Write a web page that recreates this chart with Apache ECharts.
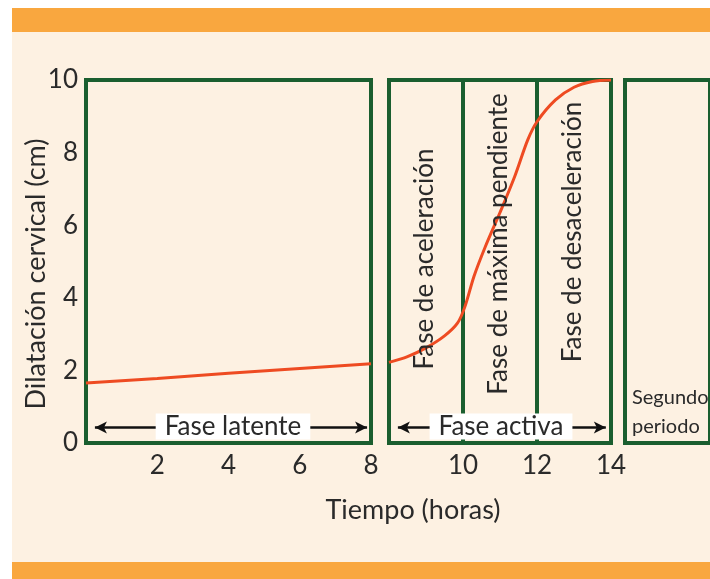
<!DOCTYPE html>
<html><head><meta charset="utf-8">
<script src="https://cdn.jsdelivr.net/npm/echarts@6/dist/echarts.min.js"></script>
<style>html,body{margin:0;padding:0;background:#fff}#c{width:710px;height:579px}</style>
</head><body><div id="c"></div>
<script>
// ---- data ----
const yTicks = [0, 2, 4, 6, 8, 10];
const latentTicks = [2, 4, 6, 8];
const activeTicks = [10, 12, 14];
const latentX = [0, 2, 4, 6, 8];
const latentY = [1.65, 1.78, 1.92, 2.05, 2.18];
const activeX = [8, 8.5, 9, 9.5, 9.85, 10.05, 10.3, 10.6, 11, 11.4, 11.75, 12, 12.5, 13, 13.5, 14];
const activeY = [2.22, 2.38, 2.62, 2.95, 3.3, 3.75, 4.6, 5.4, 6.35, 7.35, 8.35, 8.85, 9.45, 9.8, 9.96, 10];
const phaseNames = ['Fase de aceleración', 'Fase de máxima pendiente', 'Fase de desaceleración'];
const phaseCenters = [9, 11, 13];
const yTitle = 'Dilatación cervical (cm)';
const xTitle = 'Tiempo (horas)';
const latentLabel = 'Fase latente';
const activeLabel = 'Fase activa';
const secondLabel = 'Segundo\nperiodo';

const FONT = 'Lato';
const GREEN = '#1a5e2f';
const RED = '#ee4b22';
const TXT = '#2a2a2a';

const chart = echarts.init(document.getElementById('c'), null, {renderer: 'canvas'});

const gridBase = {top: 80, height: 363, show: true, borderColor: GREEN, borderWidth: 4, backgroundColor: 'transparent'};

const arrowLine = (x0, x1) => ({
  silent: true, symbol: ['arrow', 'arrow'], symbolSize: [9, 12],
  lineStyle: {color: '#111', width: 2.5, type: 'solid'},
  label: {show: false},
  data: [[{coord: [x0, 0.43]}, {coord: [x1, 0.43]}]]
});

const option = {
  animation: false,
  backgroundColor: '#fff',
  textStyle: {fontFamily: FONT},
  grid: [
    Object.assign({left: 86, width: 285}, gridBase),
    Object.assign({left: 389, width: 222}, gridBase),
    Object.assign({left: 625, width: 200}, gridBase)
  ],
  xAxis: [
    {gridIndex: 0, type: 'value', min: 0, max: 8, interval: 2,
     axisLine: {show: false}, axisTick: {show: false}, splitLine: {show: false},
     axisLabel: {margin: 10, fontSize: 26, color: TXT, fontFamily: FONT,
       formatter: v => latentTicks.includes(v) ? String(v) : ''}},
    {gridIndex: 1, type: 'value', min: 8, max: 14, interval: 2,
     axisLine: {show: false}, axisTick: {show: false},
     splitLine: {show: true, lineStyle: {color: GREEN, width: 4}},
     axisLabel: {margin: 10, fontSize: 26, color: TXT, fontFamily: FONT,
       formatter: v => activeTicks.includes(v) ? String(v) : ''}},
    {gridIndex: 2, type: 'value', min: 14, max: 20, show: false}
  ],
  yAxis: [
    {gridIndex: 0, type: 'value', min: 0, max: 10, interval: 2,
     axisLine: {show: false}, axisTick: {show: false}, splitLine: {show: false},
     axisLabel: {margin: 8, fontSize: 26, color: TXT, fontFamily: FONT,
       formatter: v => yTicks.includes(v) ? String(v) : ''}},
    {gridIndex: 1, type: 'value', min: 0, max: 10, show: false},
    {gridIndex: 2, type: 'value', min: 0, max: 10, show: false}
  ],
  series: [
    {type: 'line', xAxisIndex: 0, yAxisIndex: 0, showSymbol: false, z: 5,
     lineStyle: {color: RED, width: 3},
     data: latentX.map((x, i) => [x, latentY[i]]),
     markLine: arrowLine(0.25, 7.89)},
    {type: 'line', xAxisIndex: 1, yAxisIndex: 1, showSymbol: false, z: 5,
     smooth: 0.3,
     lineStyle: {color: RED, width: 3},
     data: activeX.map((x, i) => [x, activeY[i]]),
     markLine: arrowLine(8.24, 13.86)}
  ]
};
chart.setOption(option);

// annotations
const px = (gi, x, y) => chart.convertToPixel({gridIndex: gi}, [x, y]);
const lat = px(0, 4, 0.43);
const act = px(1, 11, 0.43);
const phaseY = [259, 244, 232];
const texts = [];
phaseNames.forEach((n, i) => {
  const p = px(1, phaseCenters[i], 5);
  texts.push({type: 'text', z: 100, x: p[0] - 1, y: phaseY[i], rotation: Math.PI / 2,
    style: {text: n, fill: TXT, font: '26px ' + FONT, align: 'center', verticalAlign: 'middle'}});
});
const boxText = (t, p) => ({type: 'text', z: 100, x: p[0], y: p[1] - 1,
  style: {text: t, fill: TXT, font: '26px ' + FONT, align: 'center', verticalAlign: 'middle',
    backgroundColor: '#fff', padding: [0, 9, 0, 9]}});
texts.push(boxText(latentLabel, [233, lat[1]]));
texts.push(boxText(activeLabel, [501, act[1]]));
texts.push({type: 'text', z: 100, x: 632, y: 412,
  style: {text: secondLabel, fill: TXT, font: '20px ' + FONT, align: 'left', verticalAlign: 'middle', lineHeight: 29}});
texts.push({type: 'text', z: 100, x: 36, y: 274, rotation: Math.PI / 2,
  style: {text: yTitle, fill: TXT, font: '27px ' + FONT, align: 'center', verticalAlign: 'middle'}});
texts.push({type: 'text', z: 100, x: 413, y: 510,
  style: {text: xTitle, fill: TXT, font: '27px ' + FONT, align: 'center', verticalAlign: 'middle'}});

chart.setOption({graphic: [
  {type: 'rect', z: -10, silent: true, shape: {x: 12, y: 0, width: 698, height: 579}, style: {fill: '#fdf1e2'}},
  {type: 'rect', z: -9, silent: true, shape: {x: 12, y: 8, width: 698, height: 24}, style: {fill: '#f9a73f'}},
  {type: 'rect', z: -9, silent: true, shape: {x: 12, y: 562, width: 698, height: 17}, style: {fill: '#f9a73f'}},
  {type: 'rect', z: -9, silent: true, shape: {x: 12, y: 0, width: 698, height: 8}, style: {fill: '#fff'}}
].concat(texts)});
</script></body></html>
